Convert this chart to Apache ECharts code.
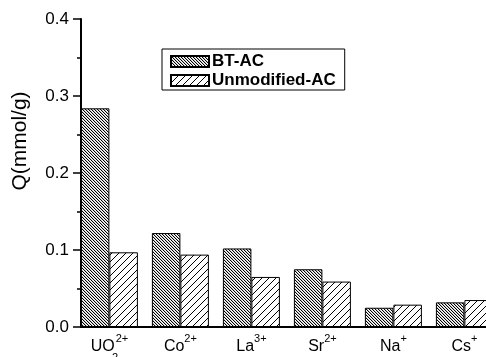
<!DOCTYPE html>
<html>
<head>
<meta charset="utf-8">
<script src="https://cdn.jsdelivr.net/npm/echarts@6/dist/echarts.min.js"></script>
<style>
  html, body { margin: 0; padding: 0; background: #fff; }
  #chart { width: 486px; height: 357px; }
</style>
</head>
<body>
<div id="chart"></div>
<script>
// Ion categories: base symbol, subscript and charge
const ions = ['UO', 'Co', 'La', 'Sr', 'Na', 'Cs'];
const ionSub = ['2', '', '', '', '', ''];
const ionCharge = ['2+', '2+', '3+', '2+', '+', '+'];

// Adsorption capacity Q (mmol/g)
const btAC = [0.284, 0.122, 0.102, 0.075, 0.025, 0.032];
const unmodifiedAC = [0.097, 0.094, 0.065, 0.059, 0.029, 0.035];

const seriesNames = ['BT-AC', 'Unmodified-AC'];

const FONT = '"Liberation Sans", Arial, sans-serif';

// Hatch tiles drawn pixel by pixel so the lines stay crisp.
// shades[k] is the grey level for the k-th diagonal inside the tile.
function hatch(size, dir, shades) {
  const c = document.createElement('canvas');
  c.width = size; c.height = size;
  const ctx = c.getContext('2d');
  const img = ctx.createImageData(size, size);
  for (let y = 0; y < size; y++) {
    for (let x = 0; x < size; x++) {
      const k = dir > 0 ? (x + y) % size : ((x - y) % size + size) % size;
      const v = shades[k] !== undefined ? shades[k] : 255;
      const i = (y * size + x) * 4;
      img.data[i] = v; img.data[i + 1] = v; img.data[i + 2] = v; img.data[i + 3] = 255;
    }
  }
  ctx.putImageData(img, 0, 0);
  return c;
}

const denseBack = hatch(3, -1, [0, 200, 255]);
const wideForward = hatch(7, 1, [0]);

const positions = ions.map((_, i) => i + 1);

function labelFor(v) {
  const i = Math.round(v) - 1;
  if (i < 0 || i >= ions.length) return '';
  let s = '{b|' + ions[i] + '}';
  if (ionSub[i]) s += '{s|' + ionSub[i] + '}';
  s += '{p|' + ionCharge[i] + '}';
  return s;
}

const chart = echarts.init(document.getElementById('chart'), null, { renderer: 'canvas' });

chart.setOption({
  animation: false,
  backgroundColor: '#fff',
  grid: { left: 81, top: 19, bottom: 30, right: -21, containLabel: false, outerBoundsMode: 'none' },
  legend: {
    orient: 'vertical',
    left: 162,
    top: 49,
    padding: [4, 9, 1, 8],
    itemGap: 2,
    itemWidth: 38,
    itemHeight: 11,
    borderColor: '#000',
    borderWidth: 1,
    icon: 'rect',
    textStyle: { fontFamily: FONT, fontSize: 17, fontWeight: 'bold', color: '#000', lineHeight: 14, padding: [0, 0, 0, -2] },
    data: seriesNames
  },
  xAxis: [
    {
      type: 'value',
      min: 0.6,
      max: 6.6,
      position: 'bottom',
      splitLine: { show: false },
      axisTick: { show: false },
      axisLine: { show: true, lineStyle: { color: '#000', width: 2 } },
      axisLabel: {
        customValues: positions,
        formatter: labelFor,
        margin: 6,
        color: '#000',
        rich: {
          b: { fontFamily: FONT, fontSize: 16, color: '#000', lineHeight: 22, verticalAlign: 'bottom' },
          s: { fontFamily: FONT, fontSize: 11, color: '#000', width: 1, verticalAlign: 'bottom', lineHeight: 22, padding: [0, 0, -8, 0] },
          p: { fontFamily: FONT, fontSize: 11, color: '#000', verticalAlign: 'top', lineHeight: 20 }
        }
      }
    },
    {
      type: 'value',
      min: 0.6,
      max: 6.6,
      position: 'top',
      splitLine: { show: false },
      axisTick: { show: false },
      axisLabel: { show: false },
      axisLine: { show: true, lineStyle: { color: '#000', width: 2 } }
    }
  ],
  yAxis: [
    {
      // main axis: line, labels and major ticks every 0.1
      type: 'value',
      position: 'left',
      min: 0,
      max: 0.4,
      interval: 0.1,
      splitLine: { show: false },
      axisLine: { show: true, lineStyle: { color: '#000', width: 2 } },
      axisTick: { show: true, inside: false, length: 8, lineStyle: { color: '#000', width: 1.5 } },
      axisLabel: {
        formatter: v => v.toFixed(1),
        margin: 12,
        fontFamily: FONT,
        fontSize: 17,
        color: '#000'
      }
    },
    {
      // short ticks every 0.05 on the same line
      type: 'value',
      position: 'left',
      offset: 0,
      min: 0,
      max: 0.4,
      interval: 0.05,
      splitLine: { show: false },
      axisLine: { show: false },
      axisTick: { show: true, inside: false, length: 4, lineStyle: { color: '#000', width: 1.5 } },
      axisLabel: { show: false }
    }
  ],
  graphic: [
    {
      type: 'text',
      x: 20,
      y: 141,
      rotation: Math.PI / 2,
      style: {
        text: 'Q(mmol/g)',
        fontFamily: FONT,
        fontSize: 21,
        fill: '#000',
        align: 'center',
        verticalAlign: 'middle'
      }
    }
  ],
  series: [
    {
      name: seriesNames[0],
      type: 'bar',
      barWidth: 28.5,
      barGap: '0%',
      data: positions.map((x, i) => [x, btAC[i]]),
      itemStyle: { color: { image: denseBack, repeat: 'repeat' }, borderColor: '#000', borderWidth: 1 }
    },
    {
      name: seriesNames[1],
      type: 'bar',
      barWidth: 28.5,
      barGap: '0%',
      data: positions.map((x, i) => [x, unmodifiedAC[i]]),
      itemStyle: { color: { image: wideForward, repeat: 'repeat' }, borderColor: '#000', borderWidth: 1 }
    }
  ]
});
</script>
</body>
</html>
